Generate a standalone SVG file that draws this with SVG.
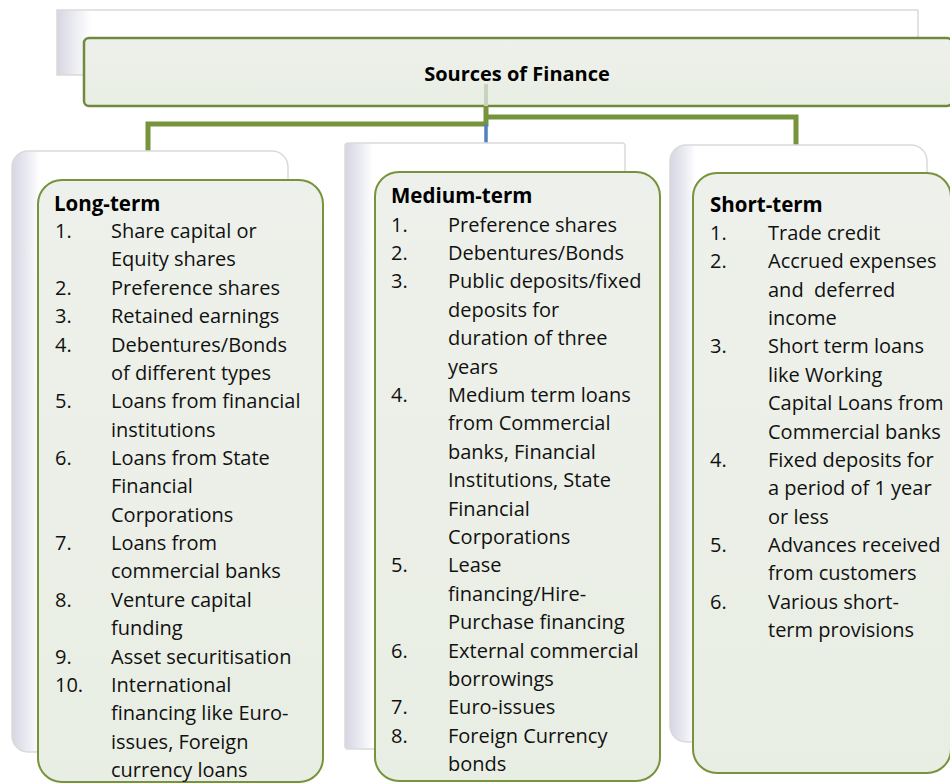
<svg xmlns="http://www.w3.org/2000/svg" width="950" height="783" viewBox="0 0 950 783">
<defs>
<linearGradient id="backGrad" x1="0" y1="0" x2="1" y2="0">
<stop offset="0" stop-color="#D6D6E2"/>
<stop offset="0.06" stop-color="#ECECF3"/>
<stop offset="0.1" stop-color="#FFFFFF"/>
<stop offset="1" stop-color="#FFFFFF"/>
</linearGradient>
<linearGradient id="backGradTop" x1="0" y1="0" x2="1" y2="0">
<stop offset="0" stop-color="#D6D6E2"/>
<stop offset="0.025" stop-color="#F0F0F5"/>
<stop offset="0.04" stop-color="#FFFFFF"/>
<stop offset="1" stop-color="#FFFFFF"/>
</linearGradient>
<linearGradient id="frontGrad" x1="0" y1="0" x2="0" y2="1">
<stop offset="0" stop-color="#EEF1EB"/>
<stop offset="1" stop-color="#E9EEE4"/>
</linearGradient>
</defs>
<style>
.back{fill:url(#backGrad);stroke:#DADADA;stroke-width:1.5}
.front{fill:url(#frontGrad);stroke:#77933C;stroke-width:2}
.conn{fill:none;stroke:#77933C;stroke-width:5}
.t{font-family:"Open Sans","Noto Sans",sans-serif;font-size:20px;fill:#111}
.h{font-family:"Open Sans","Noto Sans",sans-serif;font-size:20.5px;font-weight:bold;fill:#000}
.title{font-family:"Open Sans","Noto Sans",sans-serif;font-size:20px;font-weight:bold;fill:#000}
</style>
<rect width="950" height="783" fill="#FFFFFF"/>

<g id="root">
<rect x="57" y="10" width="861" height="65" fill="url(#backGradTop)" stroke="#DADADA" stroke-width="1.5"/>
<rect x="84" y="38" width="868" height="68" rx="5" fill="url(#frontGrad)" stroke="#6F8A3E" stroke-width="2.5"/>
<line x1="486" y1="84" x2="486" y2="106" stroke="#C9D2BC" stroke-width="4"/>
<text class="title" x="517" y="81" text-anchor="middle">Sources of Finance</text>
</g>

<g id="connectors">
<polyline class="conn" points="486,106 486,124 148,124 148,151"/>
<polyline class="conn" points="486,117 796,117 796,146"/>
<line x1="486" y1="124" x2="486" y2="143" stroke="#4F81BD" stroke-width="3.5"/>
</g>

<g id="long-term">
<rect class="back" x="12" y="151" width="276" height="601" rx="16"/>
<rect class="front" x="38" y="180" width="285" height="602" rx="24"/>
<text class="h" x="54" y="211">Long-term</text>
<text class="t" x="55" y="238">1.</text><text class="t" x="111" y="238">Share capital or</text>
<text class="t" x="111" y="266.4">Equity shares</text>
<text class="t" x="55" y="294.7">2.</text><text class="t" x="111" y="294.7">Preference shares</text>
<text class="t" x="55" y="323.1">3.</text><text class="t" x="111" y="323.1">Retained earnings</text>
<text class="t" x="55" y="351.5">4.</text><text class="t" x="111" y="351.5">Debentures/Bonds</text>
<text class="t" x="111" y="379.9">of different types</text>
<text class="t" x="55" y="408.2">5.</text><text class="t" x="111" y="408.2">Loans from financial</text>
<text class="t" x="111" y="436.6">institutions</text>
<text class="t" x="55" y="465">6.</text><text class="t" x="111" y="465">Loans from State</text>
<text class="t" x="111" y="493.3">Financial</text>
<text class="t" x="111" y="521.7">Corporations</text>
<text class="t" x="55" y="550.1">7.</text><text class="t" x="111" y="550.1">Loans from</text>
<text class="t" x="111" y="578.4">commercial banks</text>
<text class="t" x="55" y="606.8">8.</text><text class="t" x="111" y="606.8">Venture capital</text>
<text class="t" x="111" y="635.2">funding</text>
<text class="t" x="55" y="663.5">9.</text><text class="t" x="111" y="663.5">Asset securitisation</text>
<text class="t" x="55" y="691.9">10.</text><text class="t" x="111" y="691.9">International</text>
<text class="t" x="111" y="720.3">financing like Euro-</text>
<text class="t" x="111" y="748.6">issues, Foreign</text>
<text class="t" x="111" y="777">currency loans</text>
</g>

<g id="medium-term">
<rect class="back" x="345" y="143" width="280" height="606" rx="3"/>
<rect class="front" x="375" y="172" width="285" height="609" rx="24"/>
<text class="h" x="391" y="203">Medium-term</text>
<text class="t" x="391" y="231.5">1.</text><text class="t" x="448" y="231.5">Preference shares</text>
<text class="t" x="391" y="259.9">2.</text><text class="t" x="448" y="259.9">Debentures/Bonds</text>
<text class="t" x="391" y="288.3">3.</text><text class="t" x="448" y="288.3">Public deposits/fixed</text>
<text class="t" x="448" y="316.7">deposits for</text>
<text class="t" x="448" y="345.1">duration of three</text>
<text class="t" x="448" y="373.5">years</text>
<text class="t" x="391" y="401.9">4.</text><text class="t" x="448" y="401.9">Medium term loans</text>
<text class="t" x="448" y="430.3">from Commercial</text>
<text class="t" x="448" y="458.7">banks, Financial</text>
<text class="t" x="448" y="487.1">Institutions, State</text>
<text class="t" x="448" y="515.5">Financial</text>
<text class="t" x="448" y="543.9">Corporations</text>
<text class="t" x="391" y="572.3">5.</text><text class="t" x="448" y="572.3">Lease</text>
<text class="t" x="448" y="600.7">financing/Hire-</text>
<text class="t" x="448" y="629.1">Purchase financing</text>
<text class="t" x="391" y="657.5">6.</text><text class="t" x="448" y="657.5">External commercial</text>
<text class="t" x="448" y="685.9">borrowings</text>
<text class="t" x="391" y="714.3">7.</text><text class="t" x="448" y="714.3">Euro-issues</text>
<text class="t" x="391" y="742.7">8.</text><text class="t" x="448" y="742.7">Foreign Currency</text>
<text class="t" x="448" y="771.1">bonds</text>
</g>

<g id="short-term">
<rect class="back" x="670" y="145" width="257" height="597" rx="16"/>
<rect class="front" x="693" y="173" width="258" height="600" rx="24"/>
<text class="h" x="710" y="212">Short-term</text>
<text class="t" x="710" y="240">1.</text><text class="t" x="768" y="240">Trade credit</text>
<text class="t" x="710" y="268.4">2.</text><text class="t" x="768" y="268.4">Accrued expenses</text>
<text class="t" x="768" y="296.7" xml:space="preserve">and  deferred</text>
<text class="t" x="768" y="325.1">income</text>
<text class="t" x="710" y="353.4">3.</text><text class="t" x="768" y="353.4">Short term loans</text>
<text class="t" x="768" y="381.8">like Working</text>
<text class="t" x="768" y="410.2">Capital Loans from</text>
<text class="t" x="768" y="438.5">Commercial banks</text>
<text class="t" x="710" y="466.9">4.</text><text class="t" x="768" y="466.9">Fixed deposits for</text>
<text class="t" x="768" y="495.2">a period of 1 year</text>
<text class="t" x="768" y="523.6">or less</text>
<text class="t" x="710" y="552">5.</text><text class="t" x="768" y="552">Advances received</text>
<text class="t" x="768" y="580.3">from customers</text>
<text class="t" x="710" y="608.7">6.</text><text class="t" x="768" y="608.7">Various short-</text>
<text class="t" x="768" y="637">term provisions</text>
</g>
</svg>
